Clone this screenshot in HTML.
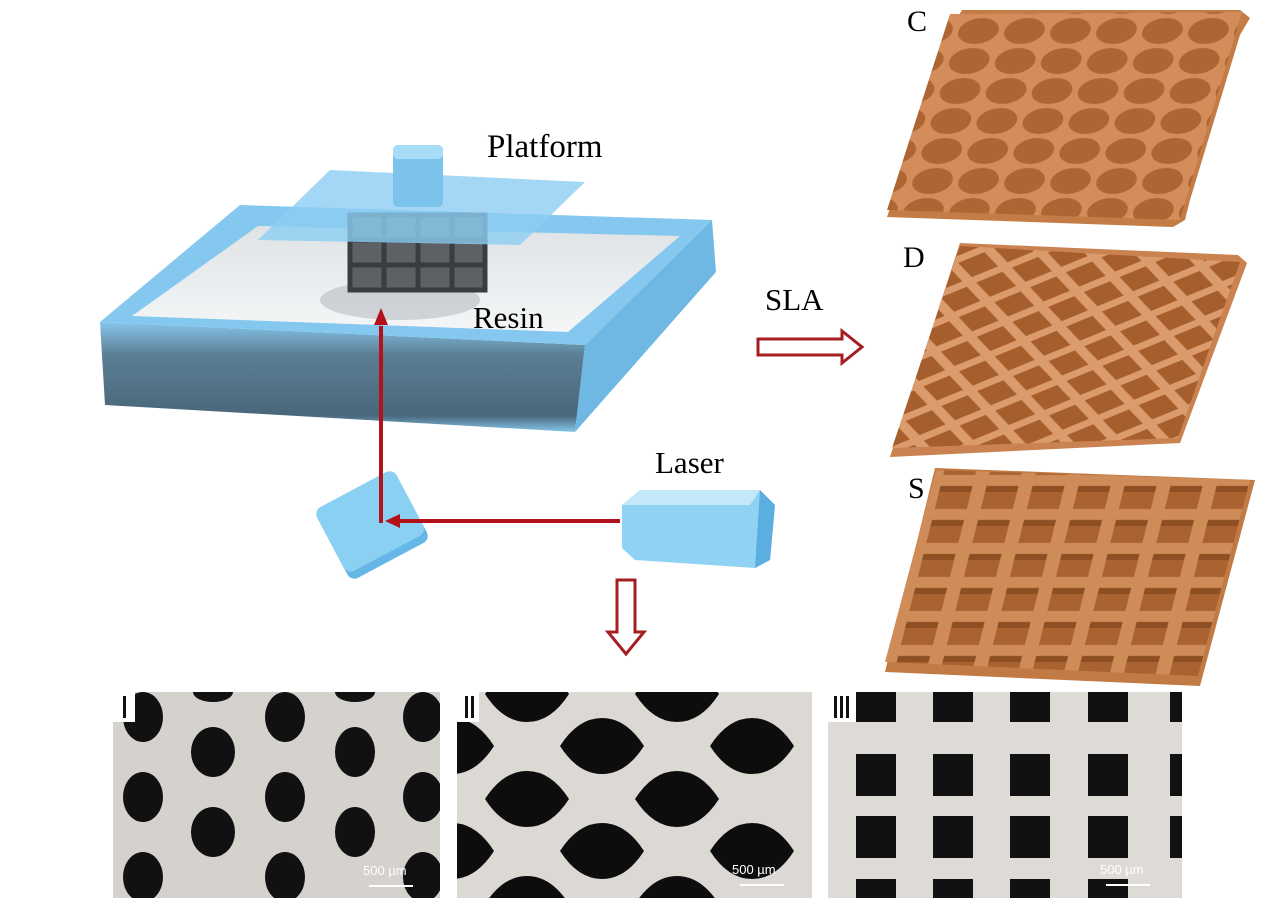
<!DOCTYPE html>
<html><head><meta charset="utf-8"><style>
html,body{margin:0;padding:0;background:#fff;width:1266px;height:904px;overflow:hidden;}
svg{display:block}
text{font-family:"Liberation Serif",serif;}
</style></head><body>
<svg width="1266" height="904" viewBox="0 0 1266 904" xmlns="http://www.w3.org/2000/svg">
<defs>
<linearGradient id="resin" x1="0" y1="0" x2="0" y2="1"><stop offset="0" stop-color="#dfe3e6"/><stop offset="1" stop-color="#f4f6f7"/></linearGradient>
<linearGradient id="front" x1="0" y1="0" x2="0" y2="1"><stop offset="0" stop-color="#7fc3ea"/><stop offset="0.3" stop-color="#53778e"/><stop offset="0.85" stop-color="#3f5f74"/><stop offset="1" stop-color="#7fc3ea"/></linearGradient>
<pattern id="cpat" width="46" height="30" patternUnits="userSpaceOnUse" patternTransform="translate(960,16) skewX(-17)">
<rect width="46" height="30" fill="#d48d5a"/><ellipse cx="23" cy="15" rx="20" ry="13" fill="#ad6533"/></pattern>
<pattern id="dpat" width="54" height="36" patternUnits="userSpaceOnUse" patternTransform="translate(960,245) rotate(5) skewX(-22)">
<rect width="54" height="36" fill="#dc9b6c"/>
<polygon points="7,18 27,5 47,18 27,31" fill="#a65f2c"/>
<polygon points="-20,0 0,-13 20,0 0,13" fill="#a65f2c"/><polygon points="34,0 54,-13 74,0 54,13" fill="#a65f2c"/>
<polygon points="-20,36 0,23 20,36 0,49" fill="#a65f2c"/><polygon points="34,36 54,23 74,36 54,49" fill="#a65f2c"/>
</pattern>
<pattern id="spat" width="46" height="34" patternUnits="userSpaceOnUse" patternTransform="translate(935,480) skewX(-14)">
<rect width="46" height="34" fill="#d08c58"/><rect x="7" y="6" width="32" height="23" fill="#a96230"/><rect x="7" y="6" width="32" height="6" fill="#8e4f22"/></pattern>
</defs>

<!-- tray -->
<polygon points="100,322 105,405 575,432 585,345" fill="url(#front)" opacity="0.95"/>
<polygon points="585,345 575,432 716,272 712,220" fill="#6fb8e4"/>
<polygon points="100,322 240,205 712,220 585,345" fill="#84c8f0"/>
<polygon points="132,316 258,226 680,236 568,332" fill="url(#resin)"/>
<ellipse cx="400" cy="300" rx="80" ry="20" fill="#b9bdc2" opacity="0.6"/>
<g fill="none" stroke="#3a3d40" stroke-width="5">
<rect x="350" y="215" width="135" height="75" fill="#5d6165"/>
<path d="M384 215V290M418 215V290M452 215V290M350 240H485M350 265H485"/>
</g>
<polygon points="258,240 330,170 585,182 520,245" fill="#8ccdf2" opacity="0.8"/>
<rect x="393" y="145" width="50" height="62" rx="5" fill="#7cc3ec"/>
<rect x="393" y="145" width="50" height="14" rx="5" fill="#a7dcf7"/>

<!-- mirror -->
<g transform="translate(372,525) rotate(-28)">
<rect x="-45" y="-40" width="90" height="80" rx="8" fill="#66b7e6"/>
<rect x="-45" y="-40" width="90" height="72" rx="8" fill="#8ad0f3"/>
</g>
<!-- laser -->
<polygon points="622,505 640,490 760,490 775,505 770,560 755,568 635,560 622,548" fill="#8fd2f4"/>
<polygon points="760,490 775,505 770,560 755,568" fill="#5aaee0"/>
<polygon points="622,505 640,490 760,490 750,505" fill="#c2e8fa"/>

<g stroke="#b3121a" stroke-width="4" fill="#b3121a">
<line x1="620" y1="521" x2="398" y2="521"/>
<line x1="381" y1="523" x2="381" y2="326"/>
</g>
<polygon points="385,521 400,514 400,528" fill="#b3121a"/>
<polygon points="381,308 374,325 388,325" fill="#b3121a"/>

<text x="487" y="157" font-size="33">Platform</text>
<text x="473" y="328" font-size="31">Resin</text>
<text x="655" y="473" font-size="31">Laser</text>
<text x="765" y="310" font-size="31">SLA</text>
<text x="907" y="31" font-size="30">C</text>
<text x="903" y="267" font-size="30">D</text>
<text x="908" y="498" font-size="30">S</text>

<polygon points="758,339 842,339 842,331 862,347 842,363 842,355 758,355" fill="#fff" stroke="#a41e22" stroke-width="3"/>
<polygon points="617,580 635,580 635,632 644,632 626,654 608,632 617,632" fill="#fff" stroke="#a41e22" stroke-width="3"/>

<!-- C -->
<polygon points="887,217 1173,227 1185,220 1190,200 1240,35 1250,18 1240,10 962,10 950,30" fill="#c47c46"/>
<polygon points="887,210 950,14 1242,12 1180,220" fill="url(#cpat)"/>
<!-- D -->
<polygon points="890,457 1180,443 1247,263 1238,255 960,243" fill="#c98250"/>
<polygon points="892,448 960,246 1240,262 1178,438" fill="url(#dpat)"/>
<!-- S -->
<polygon points="885,672 1200,686 1255,480 935,468" fill="#c27a44"/>
<polygon points="885,662 936,470 1250,480 1198,676" fill="url(#spat)"/>

<!-- micrograph I -->
<svg x="113" y="692" width="327" height="206" viewBox="0 0 327 206">
<rect width="327" height="206" fill="#d5d1cc"/>
<g fill="#111">
<ellipse cx="30" cy="25" rx="20" ry="25"/><ellipse cx="30" cy="105" rx="20" ry="25"/><ellipse cx="30" cy="185" rx="20" ry="25"/>
<ellipse cx="100" cy="60" rx="22" ry="25"/><ellipse cx="100" cy="140" rx="22" ry="25"/>
<ellipse cx="172" cy="25" rx="20" ry="25"/><ellipse cx="172" cy="105" rx="20" ry="25"/><ellipse cx="172" cy="185" rx="20" ry="25"/>
<ellipse cx="242" cy="60" rx="20" ry="25"/><ellipse cx="242" cy="140" rx="20" ry="25"/>
<ellipse cx="310" cy="25" rx="20" ry="25"/><ellipse cx="310" cy="105" rx="20" ry="25"/><ellipse cx="310" cy="185" rx="20" ry="25"/>
<ellipse cx="100" cy="0" rx="20" ry="10"/><ellipse cx="242" cy="0" rx="20" ry="10"/>
</g>
<rect x="0" y="0" width="22" height="30" fill="#fff"/><rect x="10" y="4" width="3" height="22" fill="#111"/>
<text x="250" y="183" font-size="13" fill="#fff" style="font-family:'Liberation Sans',sans-serif">500 µm</text>
<rect x="256" y="193" width="44" height="2" fill="#fff"/>
</svg>
<!-- micrograph II -->
<svg x="457" y="692" width="355" height="206" viewBox="0 0 355 206">
<rect width="355" height="206" fill="#dcd8d3"/>
<g fill="#0d0d0d">
<path id="lz" d="M-42 0 Q-24 -28 0 -28 Q24 -28 42 0 Q24 28 0 28 Q-24 28 -42 0Z" transform="translate(70,2)"/>
<use href="#lz" x="150"/><use href="#lz" x="-75" y="52"/><use href="#lz" x="75" y="52"/><use href="#lz" x="225" y="52"/>
<use href="#lz" y="105"/><use href="#lz" x="150" y="105"/><use href="#lz" x="-75" y="157"/><use href="#lz" x="75" y="157"/><use href="#lz" x="225" y="157"/>
<use href="#lz" y="210"/><use href="#lz" x="150" y="210"/>
</g>
<rect x="0" y="0" width="22" height="30" fill="#fff"/><rect x="8" y="4" width="3" height="22" fill="#111"/><rect x="14" y="4" width="3" height="22" fill="#111"/>
<text x="275" y="182" font-size="13" fill="#fff" style="font-family:'Liberation Sans',sans-serif">500 µm</text>
<rect x="283" y="192" width="44" height="2" fill="#fff"/>
</svg>
<!-- micrograph III -->
<svg x="828" y="692" width="354" height="206" viewBox="0 0 354 206">
<rect width="354" height="206" fill="#dedad5"/>
<g fill="#111">
<rect x="28" y="0" width="40" height="30"/><rect x="105" y="0" width="40" height="30"/><rect x="182" y="0" width="40" height="30"/><rect x="260" y="0" width="40" height="30"/>
<rect x="28" y="62" width="40" height="42"/><rect x="105" y="62" width="40" height="42"/><rect x="182" y="62" width="40" height="42"/><rect x="260" y="62" width="40" height="42"/>
<rect x="28" y="124" width="40" height="42"/><rect x="105" y="124" width="40" height="42"/><rect x="182" y="124" width="40" height="42"/><rect x="260" y="124" width="40" height="42"/>
<rect x="28" y="187" width="40" height="19"/><rect x="105" y="187" width="40" height="19"/><rect x="182" y="187" width="40" height="19"/><rect x="260" y="187" width="40" height="19"/>
<rect x="342" y="62" width="12" height="42"/><rect x="342" y="124" width="12" height="42"/><rect x="342" y="0" width="12" height="30"/>
</g>
<rect x="0" y="0" width="28" height="30" fill="#fff"/><rect x="6" y="4" width="3" height="22" fill="#111"/><rect x="12" y="4" width="3" height="22" fill="#111"/><rect x="18" y="4" width="3" height="22" fill="#111"/>
<text x="272" y="182" font-size="13" fill="#fff" style="font-family:'Liberation Sans',sans-serif">500 µm</text>
<rect x="278" y="192" width="44" height="2" fill="#fff"/>
</svg>
</svg>
</body></html>
